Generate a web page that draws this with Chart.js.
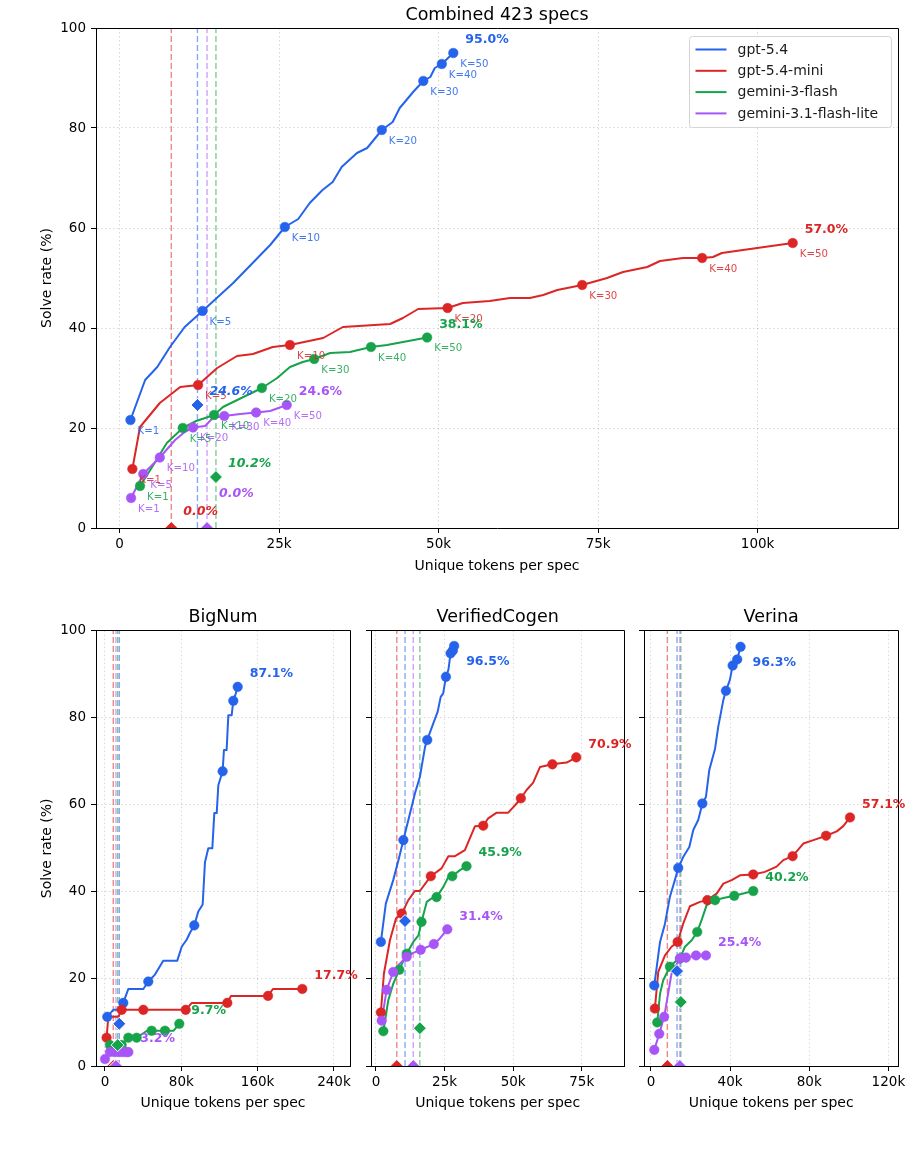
<!DOCTYPE html>
<html>
<head>
<meta charset="utf-8">
<script src="https://cdn.jsdelivr.net/npm/chart.js@4.4.1/dist/chart.umd.min.js"></script>
<style>
  html, body { margin: 0; padding: 0; background: #fff; }
  #page { position: relative; width: 914px; height: 1153px; overflow: hidden; }
  canvas { position: absolute; }
</style>
</head>
<body>
<div id="page">
  <canvas id="combined" width="914" height="590" style="left:0;top:0"></canvas>
  <canvas id="bignum" width="366" height="536" style="left:0;top:590px"></canvas>
  <canvas id="cogen" width="282" height="536" style="left:360px;top:590px"></canvas>
  <canvas id="verina" width="281" height="536" style="left:633px;top:590px"></canvas>
</div>
<script>
const models = ['gpt-5.4', 'gpt-5.4-mini', 'gemini-3-flash', 'gemini-3.1-flash-lite'];
const modelColors = ['#2563eb', '#dc2626', '#16a34a', '#a855f7'];
const kValues = [1, 5, 10, 20, 30, 40, 50];
const yTicks = [0, 20, 40, 60, 80, 100];

// points are [unique tokens per spec (k), solve rate (%)]

// Combined 423 specs
const combinedGpt54 = [[1.7,21.6],[4.0,29.6],[5.9,32.2],[7.9,36.2],[10.2,40.2],[13.0,43.4],[17.8,49.0],[23.6,56.6],[25.9,60.2],[28.0,61.8],[29.8,65.0],[31.8,67.6],[33.4,69.2],[34.8,72.2],[37.2,75.0],[38.8,76.0],[41.1,79.6],[42.8,81.2],[43.9,84.0],[44.7,85.2],[46.0,87.2],[47.6,89.4],[48.7,90.2],[49.4,92.0],[50.5,92.8],[52.3,95.0]];
const combinedGpt54K = [[1.7,21.6],[13.0,43.4],[25.9,60.2],[41.1,79.6],[47.6,89.4],[50.5,92.8],[52.3,95.0]];
const combinedMini = [[2.0,11.8],[3.2,20.2],[6.3,25.0],[9.5,28.2],[12.3,28.6],[15.3,32.0],[18.4,34.4],[20.9,34.8],[24.0,36.2],[26.7,36.6],[31.9,38.0],[35.0,40.2],[42.4,40.8],[44.4,42.0],[46.8,43.8],[51.4,44.0],[53.8,45.0],[58.0,45.4],[61.2,46.0],[64.3,46.0],[66.4,46.6],[68.6,47.6],[72.5,48.6],[76.4,50.0],[78.9,51.2],[82.7,52.2],[84.7,53.4],[88.3,54.0],[91.3,54.0],[93.0,54.2],[94.4,55.0],[97.7,55.6],[105.5,57.0]];
const combinedMiniK = [[2.0,11.8],[12.3,28.6],[26.7,36.6],[51.4,44.0],[72.5,48.6],[91.3,54.0],[105.5,57.0]];
const combinedFlash = [[3.2,8.4],[5.0,12.0],[7.4,17.0],[9.9,20.0],[12.0,21.4],[14.8,22.6],[16.2,24.2],[19.4,26.2],[22.3,28.0],[24.7,30.0],[26.7,32.2],[28.7,33.2],[30.5,33.8],[33.0,35.0],[36.1,35.2],[39.4,36.2],[41.9,36.6],[48.2,38.1]];
const combinedFlashK = [[3.2,8.4],[9.9,20.0],[14.8,22.6],[22.3,28.0],[30.5,33.8],[39.4,36.2],[48.2,38.1]];
const combinedLite = [[1.8,6.0],[3.7,10.8],[6.3,14.1],[8.7,17.6],[10.2,19.2],[11.5,20.1],[13.4,20.4],[14.6,22.0],[16.4,22.4],[18.9,22.8],[21.4,23.1],[23.6,23.4],[26.2,24.6]];
const combinedLiteK = [[1.8,6.0],[3.7,10.8],[6.3,14.1],[11.5,20.1],[16.4,22.4],[21.4,23.1],[26.2,24.6]];
const combinedBaseTokens = [12.2, 8.1, 15.1, 13.7];
const combinedBaseRate = [24.6, 0.0, 10.2, 0.0];
const combinedXTicks = [0, 25, 50, 75, 100];

// BigNum
const bignumGpt54 = [[2.4,11.3],[8.7,12.9],[14.0,12.9],[19.2,14.5],[24.5,17.7],[40.2,17.7],[45.4,19.4],[52.4,21.0],[61.1,24.2],[75.8,24.2],[80.4,27.4],[85.6,29.0],[89.1,30.6],[93.6,32.3],[97.8,35.5],[102.4,37.1],[104.8,46.8],[108.3,50.0],[112.5,50.0],[114.6,58.1],[117.1,58.1],[118.8,64.5],[123.3,67.7],[124.7,72.6],[127.5,72.6],[129.3,80.6],[132.8,80.6],[134.5,83.9],[137.0,85.5],[139.1,87.1]];
const bignumGpt54K = [[2.4,11.3],[19.2,14.5],[45.4,19.4],[93.6,32.3],[123.3,67.7],[134.5,83.9],[139.1,87.1]];
const bignumMini = [[1.7,6.5],[3.5,11.3],[14.0,11.3],[17.5,12.9],[40.2,12.9],[84.6,12.9],[91.0,14.5],[128.2,14.5],[132.0,16.1],[170.9,16.1],[176.0,17.7],[206.8,17.7]];
const bignumMiniK = [[1.7,6.5],[17.5,12.9],[40.2,12.9],[84.6,12.9],[128.2,14.5],[170.9,16.1],[206.8,17.7]];
const bignumFlash = [[5.2,4.8],[17.5,4.8],[24.5,6.5],[33.2,6.5],[44.0,8.1],[48.9,8.1],[62.9,8.1],[72.0,8.1],[77.9,9.7]];
const bignumFlashK = [[5.2,4.8],[17.5,4.8],[24.5,6.5],[33.2,6.5],[48.9,8.1],[62.9,8.1],[77.9,9.7]];
const bignumLite = [[0.0,1.6],[5.2,3.2],[10.5,3.2],[15.7,3.2],[19.2,3.2],[22.7,3.2],[24.5,3.2]];
const bignumLiteK = [[0.0,1.6],[5.2,3.2],[10.5,3.2],[15.7,3.2],[19.2,3.2],[22.7,3.2],[24.5,3.2]];
const bignumBaseTokens = [15.0, 8.7, 13.3, 11.5];
const bignumBaseRate = [9.7, 0.0, 4.8, 0.0];
const bignumXTicks = [0, 80, 160, 240];

// VerifiedCogen
const cogenGpt54 = [[1.8,28.5],[3.6,37.3],[6.3,42.7],[8.5,48.0],[10.0,51.9],[12.4,58.0],[14.2,62.6],[16.0,66.4],[17.9,73.3],[18.7,74.9],[20.9,78.7],[22.5,81.4],[23.6,84.8],[24.5,85.6],[25.5,89.4],[26.4,91.0],[27.2,94.8],[28.0,95.4],[28.5,96.5]];
const cogenGpt54K = [[1.8,28.5],[10.0,51.9],[18.7,74.9],[25.5,89.4],[27.2,94.8],[28.0,95.4],[28.5,96.5]];
const cogenMini = [[1.8,12.3],[2.9,21.2],[5.1,28.9],[7.3,33.9],[9.4,35.0],[11.8,38.1],[14.2,40.2],[16.0,40.2],[20.0,43.6],[23.9,45.4],[26.4,48.2],[28.8,48.2],[32.4,49.6],[36.1,55.1],[39.1,55.2],[40.9,56.9],[44.0,58.2],[48.2,58.2],[50.7,59.9],[52.8,61.5],[54.9,63.4],[57.3,65.1],[59.8,68.7],[64.3,69.3],[66.4,69.5],[69.5,69.7],[73.0,70.9]];
const cogenMiniK = [[1.8,12.3],[9.4,35.0],[20.0,43.6],[39.1,55.2],[52.8,61.5],[64.3,69.3],[73.0,70.9]];
const cogenFlash = [[2.7,8.0],[4.5,15.1],[6.3,18.9],[8.5,22.1],[11.2,25.8],[13.6,28.5],[15.5,30.0],[16.6,33.1],[18.5,37.7],[20.3,38.5],[22.1,38.8],[24.5,41.1],[26.4,43.4],[27.8,43.6],[30.6,45.0],[33.0,45.9]];
const cogenFlashK = [[2.7,8.0],[8.5,22.1],[11.2,25.8],[16.6,33.1],[22.1,38.8],[27.8,43.6],[33.0,45.9]];
const cogenLite = [[2.1,10.4],[3.9,17.5],[6.3,21.6],[8.7,23.5],[11.2,25.1],[13.6,26.0],[16.3,26.7],[21.1,28.0],[23.3,29.3],[26.0,31.4]];
const cogenLiteK = [[2.1,10.4],[3.9,17.5],[6.3,21.6],[11.2,25.1],[16.3,26.7],[21.1,28.0],[26.0,31.4]];
const cogenBaseTokens = [10.6, 7.6, 16.0, 13.6];
const cogenBaseRate = [33.3, 0.0, 8.7, 0.0];
const cogenXTicks = [0, 25, 50, 75];

// Verina
const verinaGpt54 = [[1.7,18.5],[4.6,28.5],[7.1,32.7],[9.6,38.9],[12.1,42.7],[13.8,45.5],[16.3,48.0],[19.4,50.3],[21.4,54.2],[23.9,56.5],[26.0,60.3],[27.8,61.8],[29.5,68.0],[32.4,72.9],[34.0,77.9],[36.6,84.1],[37.9,86.2],[39.9,88.7],[41.3,92.0],[43.6,93.4],[45.3,96.3]];
const verinaGpt54K = [[1.7,18.5],[13.8,45.5],[26.0,60.3],[37.9,86.2],[41.3,92.0],[43.6,93.4],[45.3,96.3]];
const verinaMini = [[2.0,13.2],[3.7,21.6],[7.1,25.4],[10.4,27.4],[13.5,28.5],[16.3,32.7],[19.7,36.7],[24.8,37.7],[28.5,38.1],[33.2,39.6],[36.6,41.9],[40.8,42.7],[45.0,43.8],[51.7,44.0],[57.6,44.6],[63.5,45.8],[66.9,47.3],[71.6,48.2],[77.0,51.1],[82.1,51.9],[88.5,52.9],[93.9,53.9],[97.2,55.1],[100.6,57.1]];
const verinaMiniK = [[2.0,13.2],[13.5,28.5],[28.5,38.1],[51.7,44.0],[71.6,48.2],[88.5,52.9],[100.6,57.1]];
const verinaFlash = [[3.2,10.0],[4.6,16.6],[6.2,19.7],[9.6,22.8],[13.0,24.3],[14.7,24.7],[17.2,27.4],[20.6,28.9],[23.4,30.8],[25.6,33.5],[28.1,36.9],[32.4,38.1],[36.6,38.6],[42.1,39.1],[51.7,40.2]];
const verinaFlashK = [[3.2,10.0],[9.6,22.8],[14.7,24.7],[23.4,30.8],[32.4,38.1],[42.1,39.1],[51.7,40.2]];
const verinaLite = [[1.7,3.7],[4.2,7.4],[6.7,11.3],[10.4,21.2],[14.7,24.7],[17.7,24.9],[22.8,25.4],[27.8,25.4]];
const verinaLiteK = [[1.7,3.7],[4.2,7.4],[6.7,11.3],[14.7,24.7],[17.7,24.9],[22.8,25.4],[27.8,25.4]];
const verinaBaseTokens = [13.2, 8.3, 15.1, 14.6];
const verinaBaseRate = [21.8, 0.0, 14.7, 0.0];
const verinaXTicks = [0, 40, 80, 120];

Chart.defaults.font.family = '"DejaVu Sans", sans-serif';
Chart.defaults.color = '#000';

function rgba(hex, a) {
  const n = parseInt(hex.slice(1), 16);
  return `rgba(${n >> 16}, ${(n >> 8) & 255}, ${n & 255}, ${a})`;
}
const toXY = pts => pts.map(([x, y]) => ({ x, y }));

// single-shot label lift per model (the purple one sits above the red one)
const baseLabelDy = [-13, -16, -13, -34];

function drawLegend(ctx, a) {
  const w = 202, h = 91, x0 = Math.round(a.right - 7 - w) + 0.5, y0 = Math.round(a.top + 8) + 0.5;
  ctx.beginPath();
  if (ctx.roundRect) ctx.roundRect(x0, y0, w, h, 3); else ctx.rect(x0, y0, w, h);
  ctx.fillStyle = 'rgba(255,255,255,0.85)';
  ctx.fill();
  ctx.strokeStyle = '#d4d4d4';
  ctx.lineWidth = 1;
  ctx.stroke();
  ctx.font = '14px "DejaVu Sans"';
  ctx.textAlign = 'left';
  ctx.textBaseline = 'middle';
  models.forEach((m, i) => {
    const ry = y0 + 13 + i * 21.3;
    ctx.strokeStyle = modelColors[i];
    ctx.lineWidth = 2;
    ctx.beginPath();
    ctx.moveTo(x0 + 6, ry);
    ctx.lineTo(x0 + 37, ry);
    ctx.stroke();
    ctx.fillStyle = '#1a1a1a';
    ctx.fillText(m, x0 + 48, ry + 0.5);
  });
}

function overlayPlugin(cfg) {
  return {
    id: 'overlay',
    afterDatasetsDraw(chart) {
      const { ctx, chartArea: a, scales: { x, y } } = chart;
      const al = p => Math.round(p - 0.5) + 0.5;
      ctx.save();
      // top and right spines
      ctx.strokeStyle = '#000';
      ctx.lineWidth = 1;
      ctx.beginPath();
      ctx.moveTo(al(a.left), al(a.top));
      ctx.lineTo(al(a.right), al(a.top));
      ctx.lineTo(al(a.right), al(a.bottom));
      ctx.stroke();

      ctx.textAlign = 'left';
      ctx.textBaseline = 'middle';
      if (cfg.kLabels) {
        ctx.font = '10.2px "DejaVu Sans"';
        models.forEach((m, i) => {
          ctx.fillStyle = rgba(modelColors[i], 0.85);
          cfg.marks[i].forEach(([mx, my], j) => {
            ctx.fillText('K=' + kValues[j], x.getPixelForValue(mx) + 7, y.getPixelForValue(my) + 11);
          });
        });
      }
      if (cfg.baseLabels) {
        ctx.font = 'italic bold 12.5px "DejaVu Sans"';
        models.forEach((m, i) => {
          ctx.fillStyle = modelColors[i];
          ctx.fillText(cfg.baseRate[i].toFixed(1) + '%',
            x.getPixelForValue(cfg.baseTokens[i]) + 12, y.getPixelForValue(cfg.baseRate[i]) + baseLabelDy[i]);
        });
      }
      // final solve rate next to the K=50 point; near the top edge it goes below the point
      ctx.font = 'bold 12.5px "DejaVu Sans"';
      models.forEach((m, i) => {
        const last = cfg.marks[i][cfg.marks[i].length - 1];
        const dy = last[1] > 96 ? 16 : -13;
        ctx.fillStyle = modelColors[i];
        ctx.fillText(last[1].toFixed(1) + '%', x.getPixelForValue(last[0]) + 12, y.getPixelForValue(last[1]) + dy);
      });
      if (cfg.legend) drawLegend(ctx, a);
      ctx.restore();
    }
  };
}

function makeChart(id, cfg) {
  const datasets = [];
  models.forEach((name, i) => {
    const color = modelColors[i];
    const z = 3 - i;
    datasets.push({
      label: name, data: toXY(cfg.paths[i]), borderColor: color, borderWidth: 2,
      pointRadius: 0, tension: 0, borderJoinStyle: 'round', order: 30 + z
    });
    datasets.push({
      label: name + ' K', data: toXY(cfg.marks[i]), showLine: false,
      pointRadius: 4.8, pointBackgroundColor: color, pointBorderColor: color, pointBorderWidth: 0.5, order: 20 + z
    });
    datasets.push({
      label: name + ' single-shot', data: [{ x: cfg.baseTokens[i], y: 0 }, { x: cfg.baseTokens[i], y: 100 }],
      borderColor: rgba(color, 0.55), borderWidth: 1.4, borderDash: [6, 3], pointRadius: 0, order: 40 + z
    });
    datasets.push({
      label: name + ' single-shot rate', data: [{ x: cfg.baseTokens[i], y: cfg.baseRate[i] }], showLine: false,
      pointStyle: 'rectRot', pointRadius: 6.5, pointBackgroundColor: color, pointBorderColor: '#fff',
      pointBorderWidth: 1, borderWidth: 1, order: 10 + z
    });
  });

  const gridOpts = { color: 'rgba(0,0,0,0.2)', lineWidth: 0.8, tickLength: 5, tickColor: '#000', tickWidth: 1 };
  const borderOpts = { color: '#000', width: 1, dash: [1.5, 2.5] };

  new Chart(document.getElementById(id), {
    type: 'line',
    data: { datasets },
    options: {
      responsive: false,
      animation: false,
      devicePixelRatio: 1,
      layout: { padding: cfg.padding },
      plugins: {
        legend: { display: false },
        tooltip: { enabled: false },
        title: {
          display: true, text: cfg.title, color: '#000', fullSize: false,
          font: { size: 17.5, weight: 'normal' }, padding: { top: 0, bottom: cfg.titleGap }
        }
      },
      scales: {
        x: {
          type: 'linear', min: cfg.xMin, max: cfg.xMax,
          afterBuildTicks: s => { s.ticks = cfg.xTicks.map(v => ({ value: v })); },
          afterFit: s => { s.height = cfg.xHeight; },
          ticks: {
            callback: v => (v === 0 ? '0' : v + 'k'), font: { size: 13.5 }, color: '#000',
            padding: 3.5, maxRotation: 0, autoSkip: false
          },
          grid: gridOpts,
          border: borderOpts,
          title: {
            display: true, text: 'Unique tokens per spec', color: '#000',
            font: { size: 14 }, padding: { top: 0, bottom: cfg.xTitlePad }
          }
        },
        y: {
          type: 'linear', min: 0, max: 100,
          afterBuildTicks: s => { s.ticks = yTicks.map(v => ({ value: v })); },
          afterFit: s => { s.width = cfg.yWidth; },
          ticks: { display: cfg.yLabels, font: { size: 13.5 }, color: '#000', padding: 5 },
          grid: gridOpts,
          border: borderOpts,
          title: {
            display: cfg.yLabels, text: 'Solve rate (%)', color: '#000',
            font: { size: 14 }, padding: { top: 38.6, bottom: 0 }
          }
        }
      }
    },
    plugins: [overlayPlugin(cfg)]
  });
}

makeChart('combined', {
  title: 'Combined 423 specs',
  paths: [combinedGpt54, combinedMini, combinedFlash, combinedLite],
  marks: [combinedGpt54K, combinedMiniK, combinedFlashK, combinedLiteK],
  baseTokens: combinedBaseTokens, baseRate: combinedBaseRate,
  xMin: -3.7, xMax: 122.0, xTicks: combinedXTicks,
  padding: { top: 5, left: 0, right: 16, bottom: 0 }, titleGap: 2,
  xHeight: 62, xTitlePad: 15, yWidth: 96, yLabels: true,
  kLabels: true, baseLabels: true, legend: true
});

makeChart('bignum', {
  title: 'BigNum',
  paths: [bignumGpt54, bignumMini, bignumFlash, bignumLite],
  marks: [bignumGpt54K, bignumMiniK, bignumFlashK, bignumLiteK],
  baseTokens: bignumBaseTokens, baseRate: bignumBaseRate,
  xMin: -9.4, xMax: 256.8, xTicks: bignumXTicks,
  padding: { top: 17.2, left: 0, right: 16, bottom: 0 }, titleGap: 2.5,
  xHeight: 60, xTitlePad: 14, yWidth: 96, yLabels: true,
  kLabels: false, baseLabels: false, legend: false
});

makeChart('cogen', {
  title: 'VerifiedCogen',
  paths: [cogenGpt54, cogenMini, cogenFlash, cogenLite],
  marks: [cogenGpt54K, cogenMiniK, cogenFlashK, cogenLiteK],
  baseTokens: cogenBaseTokens, baseRate: cogenBaseRate,
  xMin: -1.8, xMax: 90.5, xTicks: cogenXTicks,
  padding: { top: 17.2, left: 0, right: 17.7, bottom: 0 }, titleGap: 2.5,
  xHeight: 60, xTitlePad: 14, yWidth: 11, yLabels: false,
  kLabels: false, baseLabels: false, legend: false
});

makeChart('verina', {
  title: 'Verina',
  paths: [verinaGpt54, verinaMini, verinaFlash, verinaLite],
  marks: [verinaGpt54K, verinaMiniK, verinaFlashK, verinaLiteK],
  baseTokens: verinaBaseTokens, baseRate: verinaBaseRate,
  xMin: -3.5, xMax: 125.0, xTicks: verinaXTicks,
  padding: { top: 17.2, left: 0, right: 15.7, bottom: 0 }, titleGap: 2.5,
  xHeight: 60, xTitlePad: 14, yWidth: 11, yLabels: false,
  kLabels: false, baseLabels: false, legend: false
});
</script>
</body>
</html>
